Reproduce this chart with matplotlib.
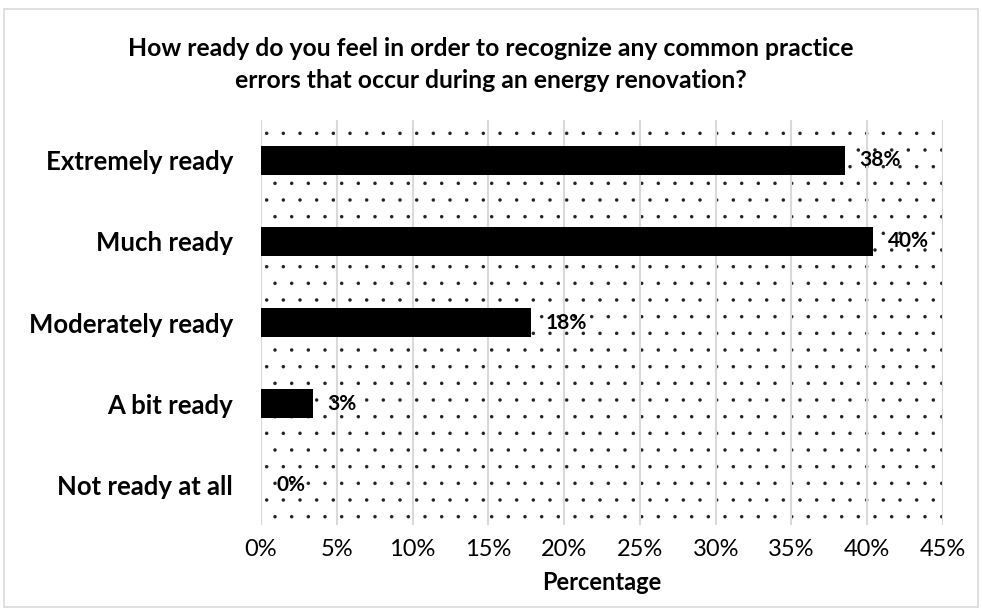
import matplotlib.pyplot as plt
import matplotlib.ticker as mticker
from matplotlib.patches import Rectangle

plt.rcParams['font.family'] = ['Lato', 'DejaVu Sans']
plt.rcParams['hatch.linewidth'] = 0.1

# datos
categorias = ['Extremely ready', 'Much ready', 'Moderately ready', 'A bit ready', 'Not ready at all']
valores = [38.5, 40.4, 17.8, 3.4, 0.0]
etiquetas = ['38%', '40%', '18%', '3%', '0%']
titulo = 'How ready do you feel in order to recognize any common practice\nerrors that occur during an energy renovation?'

fig = plt.figure(figsize=(9.82, 6.12), dpi=100)
fig.patches.append(Rectangle((0.004, 0.008), 0.992, 0.978, transform=fig.transFigure,
                             fill=False, edgecolor='#d9d9d9', linewidth=1.2))

ax = fig.add_axes([0.2658, 0.142, 0.6945, 0.662])

# fondo punteado
ax.patch.set_facecolor('white')
ax.add_patch(Rectangle((0, 0), 1, 1, transform=ax.transAxes, facecolor='white',
                       edgecolor='#222222', hatch='.', linewidth=0, zorder=0))

y_pos = range(len(categorias))
ax.barh(y_pos, valores, height=0.36, color='black', zorder=3)
ax.set_yticks(y_pos)
ax.set_yticklabels(categorias, fontsize=18.5, fontweight='bold')
ax.invert_yaxis()
ax.set_ylim(4.5, -0.5)

ax.set_xlim(0, 45)
ax.set_xticks(range(0, 46, 5))
ax.xaxis.set_major_formatter(mticker.FuncFormatter(lambda v, p: f'{v:.0f}%'))
ax.tick_params(axis='x', labelsize=17, length=0, pad=10)
ax.tick_params(axis='y', length=0, pad=20)
ax.grid(axis='x', color='#d9d9d9', linewidth=1.5, zorder=1)
ax.set_axisbelow(False)
for s in ax.spines.values():
    s.set_visible(False)
ax.axvline(0, color='#d9d9d9', linewidth=1.5, zorder=2)

for i, (v, t) in enumerate(zip(valores, etiquetas)):
    ax.text(v + 1.0, i, t, va='center', ha='left', fontsize=15, fontweight='bold', zorder=4)

ax.set_xlabel('Percentage', fontsize=17, fontweight='bold', labelpad=8)
fig.text(0.5, 0.895, titulo, ha='center', va='center', fontsize=17.8, fontweight='bold',
         linespacing=1.5)

plt.savefig('out.png', dpi=100, facecolor='white')
